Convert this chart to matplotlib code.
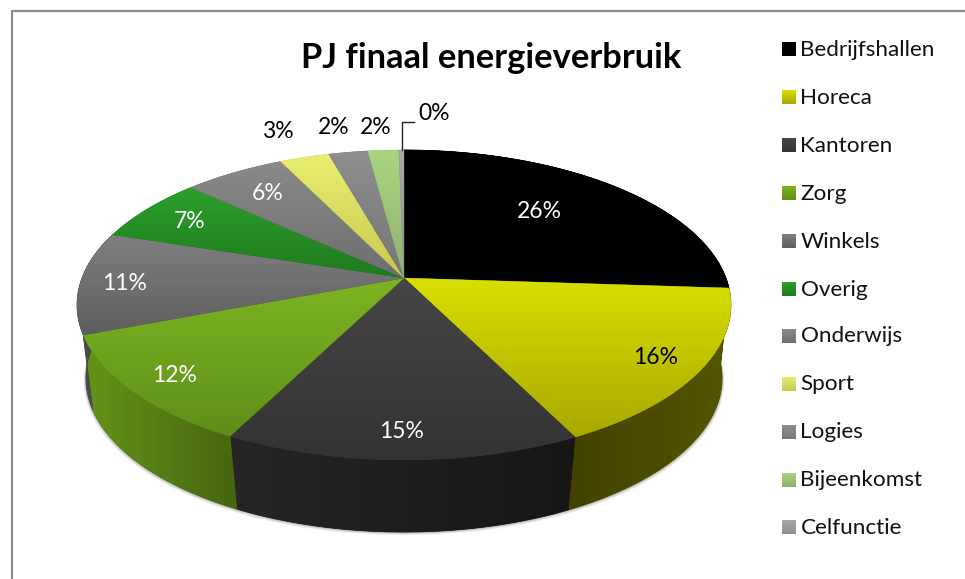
import matplotlib
matplotlib.use('Agg')
import matplotlib.pyplot as plt
from matplotlib.patches import Polygon
from matplotlib.colors import to_rgb
import numpy as np

names = ['Bedrijfshallen', 'Horeca', 'Kantoren', 'Zorg', 'Winkels', 'Overig',
         'Onderwijs', 'Sport', 'Logies', 'Bijeenkomst', 'Celfunctie']
shares = [26.05, 16.55, 14.95, 11.65, 10.7, 6.85, 5.95, 2.9, 2.3, 1.8, 0.3]
pct_labels = ['26%', '16%', '15%', '12%', '11%', '7%', '6%', '3%', '2%', '2%', '0%']

# gradient colours, top and bottom of each slice
top_a = ['#000000', '#d8e000', '#464646', '#7cb522', '#808080', '#2ca02c',
         '#8a8a8a', '#eaee70', '#8e8e8e', '#a9d580', '#a8a8a8']
top_b = ['#000000', '#a8a800', '#333333', '#5f8f18', '#5e5e5e', '#1f7a1f',
         '#6e6e6e', '#c8c850', '#767676', '#8fb070', '#8e8e8e']
# side wall colours, left and right
wall_a = ['#000000', '#424200', '#262626', '#659518', '#4a4a4a', '#145a14',
          '#444444', '#777730', '#444444', '#557040', '#555555']
wall_b = ['#000000', '#555500', '#161616', '#466510', '#4a4a4a', '#145a14',
          '#444444', '#777730', '#444444', '#557040', '#555555']

label_pos = [(539, 212), (656, 358), (402, 432), (175, 376), (125, 283), (190, 222),
             (268, 194), (278, 131), (334, 127), (376, 127), (434, 114)]
label_col = ['white', 'black', 'white', 'white', 'white', 'white',
             'white', 'black', 'black', 'black', 'black']
legend_y = [48, 96, 144, 192, 240, 288, 335, 383, 431, 479, 526]

FONT = 'Lato'
CX, CY = 404, 278


def top_face(theta):
    u, v = np.sin(theta), np.cos(theta)
    w = 1 + 0.174 * v
    return CX + 322 * u / w, CY - 150.3 * v / w


def bottom_face(theta):
    u, v = np.sin(theta), np.cos(theta)
    w = 1 + 0.16 * v
    return CX + 314 * u / w, 353.5 - 150 * v / w


def gradient(ax, a, b, extent, vertical, clip=None, zorder=2):
    a, b = np.array(to_rgb(a)), np.array(to_rgb(b))
    t = np.linspace(0, 1, 128)[:, None]
    img = a * (1 - t) + b * t
    img = img[:, None, :] if vertical else img[None, :, :]
    im = ax.imshow(img, extent=extent, aspect='auto', interpolation='bilinear', zorder=zorder)
    if clip is not None:
        im.set_clip_path(Polygon(clip, closed=True, transform=ax.transData))
    return im


def plot_chart():
    fig = plt.figure(figsize=(9.65, 5.79), dpi=100)
    ax = fig.add_axes([0, 0, 1, 1])

    # soft shadow under the pie
    full = np.linspace(0, 2 * np.pi, 361)
    bx, by = bottom_face(full)
    for grow, alpha in [(3.0, 0.10), (2.0, 0.15), (1.0, 0.25)]:
        ax.fill(bx + np.sign(bx - CX) * grow * 0.7, by + grow, color='#555555', alpha=alpha, lw=0, zorder=1)

    edges = 2 * np.pi * np.cumsum([0] + shares) / sum(shares)
    for i in range(len(shares)):
        arc = np.linspace(edges[i], edges[i + 1], 80)
        tx, ty = top_face(arc)
        ux, uy = bottom_face(arc)

        wall = np.column_stack([np.r_[tx, ux[::-1]], np.r_[ty, uy[::-1]]])
        if np.cos(arc).min() < 0.1:
            ax.fill(wall[:, 0], wall[:, 1], color=wall_b[i], lw=0.5, zorder=2)
            gradient(ax, wall_a[i], wall_b[i],
                     (wall[:, 0].min(), wall[:, 0].max(), wall[:, 1].max(), wall[:, 1].min()),
                     False, wall, zorder=2)

    for i in range(len(shares)):
        arc = np.linspace(edges[i], edges[i + 1], 80)
        tx, ty = top_face(arc)
        face = np.column_stack([np.r_[CX, tx], np.r_[CY, ty]])
        ax.fill(face[:, 0], face[:, 1], color=top_b[i], lw=0.3, zorder=3)
        gradient(ax, top_a[i], top_b[i],
                 (face[:, 0].min(), face[:, 0].max(), face[:, 1].max(), face[:, 1].min()),
                 True, face, zorder=3)

    for txt, (x, y), col in zip(pct_labels, label_pos, label_col):
        ax.text(x, y, txt, color=col, fontsize=16.5, family=FONT, ha='center', va='center', zorder=5)

    # leader line of the 0% label
    ax.plot([402, 402, 414], [150, 122, 122], color='#222222', lw=1, zorder=4)

    ax.text(491, 58, 'PJ finaal energieverbruik', fontsize=24.8, fontweight='bold', family=FONT,
            ha='center', va='center', color='black')

    for i, y in enumerate(legend_y):
        gradient(ax, top_a[i], top_b[i], (782, 796, y + 8, y - 6), True)
        ax.text(800.5, y + 1.5, names[i], fontsize=16.2, family=FONT, ha='left', va='center', color='#111111')

    # chart frame, only top and left are in the crop
    ax.plot([965, 11.5, 11.5], [10.5, 10.5, 579], color='#8c8c8c', lw=1.6, zorder=6)

    ax.set_xlim(0, 965)
    ax.set_ylim(579, 0)
    ax.axis('off')
    fig.savefig('out.png', dpi=100)
    plt.close(fig)


if __name__ == '__main__':
    plot_chart()
